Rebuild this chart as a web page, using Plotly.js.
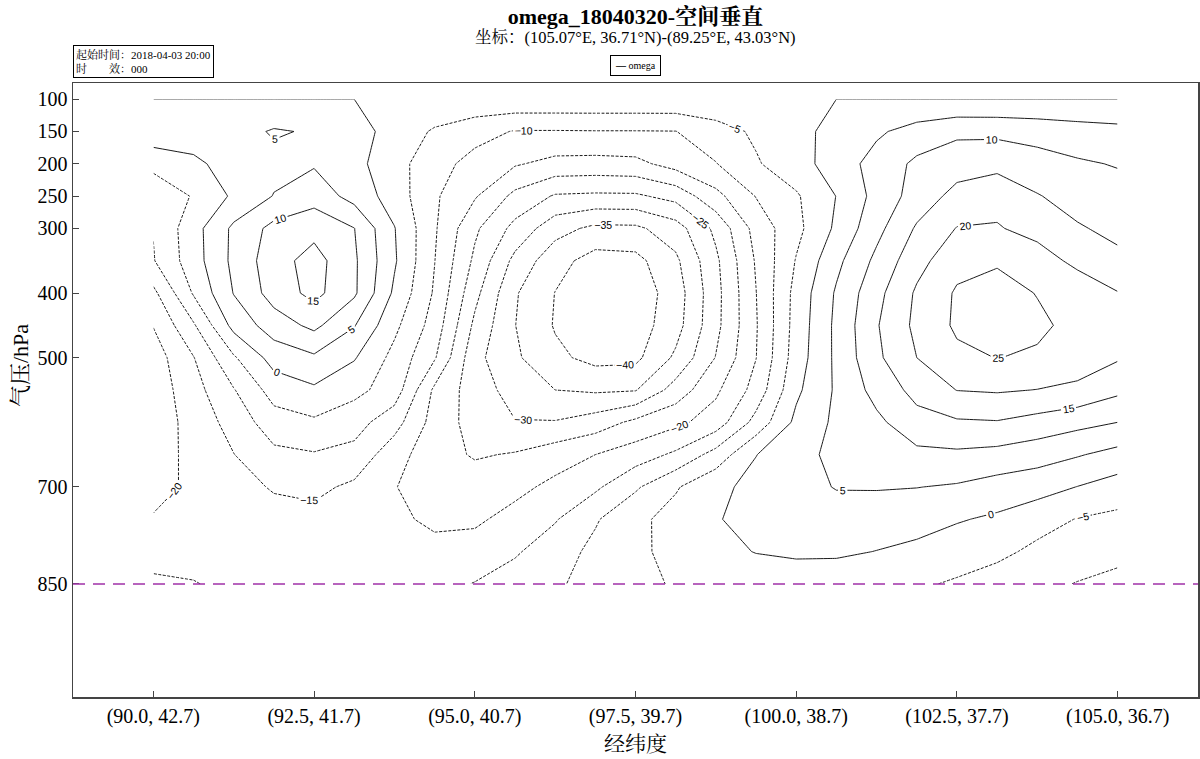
<!DOCTYPE html>
<html><head><meta charset="utf-8">
<script src="https://cdn.plot.ly/plotly-3.0.1.min.js"></script>
<style>html,body{margin:0;padding:0;background:#fff}</style>
</head><body><div id="chart" style="width:1200px;height:759px"></div>
<script>
// section points (longitude along the cross-section)
const lon = [90, 90.625, 91.25, 91.875, 92.5, 93.125, 93.75, 94.375, 95, 95.625, 96.25, 96.875, 97.5,
             98.125, 98.75, 99.375, 100, 100.625, 101.25, 101.875, 102.5, 103.125, 103.75, 104.375, 105];
const pressure = [100,150,200,250,300,350,400,450,500,550,600,650,700,750,800,850];
const tickLon = [90, 92.5, 95, 97.5, 100, 102.5, 105];
const tickText = ['(90.0, 42.7)','(92.5, 41.7)','(95.0, 40.7)','(97.5, 39.7)','(100.0, 38.7)','(102.5, 37.7)','(105.0, 36.7)'];
const pTicks = [100,150,200,250,300,400,500,700,850];

// omega values, one array per pressure level
const w100 = [0,0,0,0,0,0,-1,-1,-1,-1,-1,-1,-1,-1,-1,-1,-1,0,0,0,0,0,0,0,0];
const w150 = [3,2.5,3,5.5,4.5,2.2,-2,-5.6,-8.2,-10.3,-10.3,-10.2,-10.2,-10.1,-7.1,-4.2,-1.4,1.5,4.2,7,9,8.9,8.2,7.2,6.5];
const w200 = [-3.1,-1,2,3.5,4.5,1.5,-3.1,-8.1,-11.7,-14.5,-16.5,-16.7,-16.3,-13.1,-10.2,-5.5,-2,2.3,6.9,11,12.8,13.4,11.9,10.6,9.7];
const w250 = [-9.6,-4.5,0.8,5.2,8,3.2,-2.3,-9.3,-14.5,-21.3,-25.5,-25.9,-25.8,-23.3,-16.5,-9.8,-5.6,0.1,6.6,12.1,16.6,18.7,15.3,13,11.8];
const w300 = [-9.8,-1.9,6,11.5,13.4,10.1,0.2,-9.4,-19.1,-26.5,-33.1,-36.2,-36,-32.3,-23.8,-13.2,-6.4,0.9,8.5,15.6,20.2,20.3,18.7,15.5,13.7];
const w350 = [-10.3,-2.2,6.2,12.9,17,10.8,0.6,-9.9,-21,-31.4,-38.2,-42,-41.5,-36,-26,-14.5,-4.7,3.7,11.2,18.3,23.3,24.4,21.8,19,16.2];
const w400 = [-16.2,-4.5,5.2,12.1,16.5,10.8,-0.9,-10.6,-23.5,-34.5,-40.1,-43.5,-43,-37.6,-26.6,-15.1,-3.3,5.6,13.5,20.7,25.6,27,24.8,22.5,20.2];
const w450 = [-19.8,-10.6,1.6,7.5,11.2,5.3,-3.8,-12.1,-26.1,-34.9,-40.4,-43,-42.5,-37,-26.4,-15.4,-3,6.1,14.6,21.2,25.8,27.5,26,23.5,22];
const w500 = [-22.5,-15.2,-5.6,2,4.2,0.4,-6.5,-14.5,-28.5,-34.2,-38.9,-41.5,-41.2,-34.1,-24.8,-15.1,-2.5,6,14,20,23.9,25.1,24.3,22.5,20.5];
const w550 = [-23,-16.9,-10.3,-2.9,-0.8,-3.6,-7.3,-21,-27.5,-32,-35,-35.7,-35.3,-27.9,-20.9,-13.2,-1,5.7,11.7,16.6,20.1,20.5,19.9,19,16.1];
const w600 = [-23,-18.1,-13.1,-7.2,-5.8,-8,-13,-22,-27,-29.8,-29.7,-27.6,-23.8,-21.2,-17.7,-8.3,1.2,6,8.9,13.2,14.4,14.7,13.2,11.5,10];
const w650 = [-23,-18.2,-15.1,-11.2,-10.4,-11.5,-18,-23,-25.5,-24.6,-22.2,-20,-17.5,-14.1,-8.1,-0.1,3,6.5,8.2,8.8,9.1,8.4,7.1,5.4,3.4];
const w700 = [-22.5,-18.5,-17,-14.5,-13.8,-16,-19.8,-22.5,-22.5,-21.3,-18.8,-15.9,-10.7,-5.5,-1.1,1.3,3.6,5.2,5.3,5.1,4.5,3,2,-0.1,-2.2];
const w750 = [-19.4,-18,-17.5,-17,-16.5,-17.5,-19,-21,-20.8,-18.4,-15.4,-10.5,-6.2,-3.2,-0.3,1.5,2.8,3.2,2.6,1.8,0.4,-0.8,-3.1,-5.2,-6.2];
const w800 = [-16.5,-16.5,-16.7,-17,-17,-17.5,-18,-18.5,-18,-15.6,-12.2,-8.8,-5.9,-3.7,-1.6,0.2,0.9,0.8,-0.1,-1.1,-2.6,-3.8,-6.1,-7.6,-9];
const w850 = [-14.3,-14.8,-16,-17,-17,-17,-17,-16.5,-14.8,-12.7,-10.6,-8.5,-6.4,-4.5,-3.8,-3.3,-3,-3,-3.2,-4.3,-5.6,-7.3,-8.7,-10.2,-11];

const omega = [w100,w150,w200,w250,w300,w350,w400,w450,w500,w550,w600,w650,w700,w750,w800,w850];

const serif = "'Liberation Serif', 'Times New Roman', 'Noto Serif CJK SC', 'Noto Sans CJK SC', serif";
const lblFont = {family: "'Liberation Sans', Arial, sans-serif", size: 10.5, color: '#000'};

function contourTrace(start, end, dash) {
  return {
    type: 'contour', x: lon, y: pressure, z: omega,
    autocontour: false,
    contours: {start: start, end: end, size: 5, coloring: 'none', showlabels: true, labelfont: lblFont},
    line: {color: '#1a1a1a', width: 1, dash: dash, smoothing: 0},
    showscale: false, showlegend: false, hoverinfo: 'skip'
  };
}

const data = [
  contourTrace(0, 30, 'solid'),
  contourTrace(-45, -5, '3px,1.5px')
];

const axisCommon = {
  showgrid: false, zeroline: false, showline: true, mirror: true,
  linecolor: '#444', linewidth: 1.5, ticks: 'inside', ticklen: 6, tickcolor: '#444',
  tickfont: {family: serif, size: 20, color: '#000'}
};

const layout = {
  width: 1200, height: 759,
  margin: {l: 73, r: 2, t: 83, b: 62},
  paper_bgcolor: '#fff', plot_bgcolor: '#fff',
  title: {text: '<b>omega_18040320-空间垂直</b>', font: {family: serif, size: 22, color: '#000'},
          x: 0.5, xref: 'paper', xanchor: 'center', y: 0.978, yref: 'container', yanchor: 'middle'},
  xaxis: Object.assign({}, axisCommon, {
    range: [88.75, 106.25], tickmode: 'array', tickvals: tickLon, ticktext: tickText,
    title: {text: '经纬度', font: {family: serif, size: 21, color: '#000'}, standoff: 10}
  }),
  yaxis: Object.assign({}, axisCommon, {
    range: [1025, 75], tickmode: 'array', tickvals: pTicks, ticktext: pTicks.map(String)
  }),
  shapes: [
    {type: 'line', xref: 'paper', x0: 0, x1: 1, yref: 'y', y0: 850, y1: 850,
     line: {color: '#a030a8', width: 1.5, dash: '12px,8px'}}
  ],
  annotations: [
    {text: '气压/hPa', xref: 'paper', yref: 'paper', x: -0.0471, y: 0.539,
     xanchor: 'center', yanchor: 'middle', textangle: -90, showarrow: false,
     font: {family: serif, size: 22, color: '#000'}},
    {text: '坐标：(105.07°E, 36.71°N)-(89.25°E, 43.03°N)', xref: 'paper', yref: 'paper',
     x: 0.5, y: 1.0733, xanchor: 'center', yanchor: 'middle', showarrow: false,
     font: {family: serif, size: 16.5, color: '#000'}},
    {text: '<b>—</b> omega', xref: 'paper', yref: 'paper', x: 0.5, y: 1.0285,
     xanchor: 'center', yanchor: 'middle', showarrow: false,
     font: {family: serif, size: 10, color: '#000'},
     bordercolor: '#000', borderwidth: 1, borderpad: 4, bgcolor: '#fff'},
    {text: '起始时间：2018-04-03 20:00<br>时　　效：000', xref: 'paper', yref: 'paper',
     x: 0, y: 1.0358, xanchor: 'left', yanchor: 'middle', align: 'left', showarrow: false,
     font: {family: serif, size: 11, color: '#000'},
     bordercolor: '#000', borderwidth: 1, borderpad: 2, bgcolor: '#fff'}
  ]
};

Plotly.newPlot('chart', data, layout, {displayModeBar: false, staticPlot: true});
</script>
</body></html>
